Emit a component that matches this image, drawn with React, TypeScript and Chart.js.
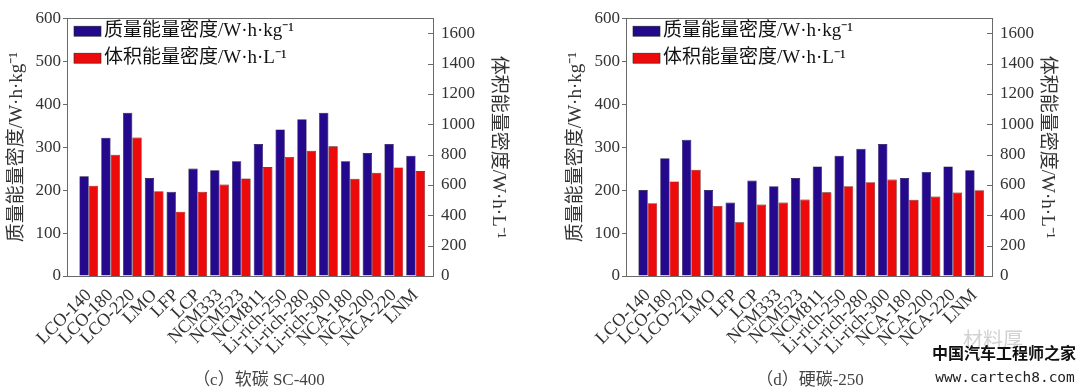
import React, { useEffect, useRef } from 'react';
import { Chart, registerables } from 'chart.js';

Chart.register(...registerables);

// ---------- data ----------
const categories = [
  'LCO-140', 'LCO-180', 'LCO-220', 'LMO', 'LFP', 'LCP', 'NCM333', 'NCM523', 'NCM811',
  'Li-rich-250', 'Li-rich-280', 'Li-rich-300', 'NCA-180', 'NCA-200', 'NCA-220', 'LNM',
];

// (c) soft carbon SC-400
const softMass = [232, 322, 380, 228, 196, 250, 246, 267, 307, 341, 365, 380, 267, 286, 307, 280];
const softVolume = [595, 800, 913, 559, 424, 555, 603, 643, 718, 785, 826, 855, 641, 681, 716, 692];

// (d) hard carbon-250
const hardMass = [200, 274, 317, 200, 171, 222, 209, 228, 255, 280, 296, 307, 228, 242, 255, 246];
const hardVolume = [480, 623, 700, 462, 354, 471, 484, 504, 552, 592, 619, 636, 502, 524, 550, 566];

const leftTicks = [0, 100, 200, 300, 400, 500, 600];
const rightTicks = [0, 200, 400, 600, 800, 1000, 1200, 1400, 1600];

const massLabel = '质量能量密度/W·h·kg⁻¹';
const volumeLabel = '体积能量密度/W·h·L⁻¹';
const captionC = '（c）软碳 SC-400';
const captionD = '（d）硬碳-250';

// ---------- styles ----------
const BLUE = '#25098c';
const RED = '#ec0a0a';
const AXIS = '#6a6a6a';
const TEXT = '#333333';
const FONT = "'Liberation Serif', 'Noto Sans CJK SC', serif";

const framePlugin = {
  id: 'framePlugin',
  afterDatasetsDraw(chart: any) {
    const { ctx, chartArea } = chart;
    const { left, right, top, bottom } = chartArea;
    ctx.save();
    ctx.strokeStyle = AXIS;
    ctx.lineWidth = 1;
    ctx.strokeRect(Math.round(left) + 0.5, Math.round(top) + 0.5, Math.round(right - left), Math.round(bottom - top));
    // inward ticks on right axis
    const y1 = chart.scales.y1;
    rightTicks.forEach((v) => {
      if (v === 0) return;
      const py = Math.round(y1.getPixelForValue(v)) + 0.5;
      ctx.beginPath();
      ctx.moveTo(right - 5, py);
      ctx.lineTo(right, py);
      ctx.stroke();
    });
    // legend inside plot
    const items = [
      { color: BLUE, text: massLabel },
      { color: RED, text: volumeLabel },
    ];
    ctx.font = `19px ${FONT}`;
    ctx.textBaseline = 'middle';
    ctx.textAlign = 'left';
    items.forEach((it, i) => {
      const bx = left + 7;
      const by = top + 8 + i * 27;
      ctx.fillStyle = it.color;
      ctx.fillRect(bx, by, 27, 10);
      ctx.strokeStyle = '#222';
      ctx.lineWidth = 0.6;
      ctx.strokeRect(bx, by, 27, 10);
      ctx.fillStyle = '#111';
      ctx.fillText(it.text, bx + 30, by + 5);
    });
    ctx.restore();
  },
};

function makeConfig(mass: number[], volume: number[], rightTitlePad: number): any {
  const tickFont = { family: FONT, size: 17 };
  return {
    type: 'bar',
    data: {
      datasets: [
        {
          label: massLabel,
          data: mass.map((v, i) => ({ x: i, y: v })),
          backgroundColor: BLUE,
          borderColor: '#14063f',
          borderWidth: 0.6,
          yAxisID: 'y',
          categoryPercentage: 0.86,
          barPercentage: 1.0,
        },
        {
          label: volumeLabel,
          data: volume.map((v, i) => ({ x: i, y: v })),
          backgroundColor: RED,
          borderColor: '#5a0000',
          borderWidth: 0.6,
          yAxisID: 'y1',
          categoryPercentage: 0.86,
          barPercentage: 1.0,
        },
      ],
    },
    options: {
      animation: false,
      responsive: false,
      devicePixelRatio: 1,
      layout: { padding: { top: 18, left: 0, right: 0, bottom: 0 } },
      plugins: { legend: { display: false }, tooltip: { enabled: false } },
      scales: {
        x: {
          type: 'linear',
          min: -1,
          max: 15.8,
          offset: false,
          afterBuildTicks: (s: any) => {
            s.ticks = categories.map((_, i) => ({ value: i }));
          },
          afterFit: (s: any) => {
            s.height = 116;
          },
          ticks: {
            autoSkip: false,
            maxRotation: 45,
            minRotation: 45,
            padding: 1,
            color: TEXT,
            font: { family: FONT, size: 18 },
            callback: (v: any) => categories[v] ?? '',
          },
          grid: { display: false },
          border: { display: false },
        },
        y: {
          position: 'left',
          min: 0,
          max: 600,
          afterBuildTicks: (s: any) => {
            s.ticks = leftTicks.map((v) => ({ value: v }));
          },
          afterFit: (s: any) => {
            s.width = 67;
          },
          ticks: { color: TEXT, font: tickFont, padding: 2, callback: (v: any) => String(v) },
          grid: { drawOnChartArea: false, tickLength: 4, color: AXIS },
          border: { display: false },
          title: {
            display: true,
            text: massLabel,
            color: TEXT,
            font: { family: FONT, size: 19 },
            padding: { top: 6, bottom: 0 },
          },
        },
        y1: {
          position: 'right',
          min: 0,
          max: 1700,
          afterBuildTicks: (s: any) => {
            s.ticks = rightTicks.map((v) => ({ value: v }));
          },
          afterFit: (s: any) => {
            s.width = 88;
          },
          ticks: { color: TEXT, font: tickFont, padding: 8, callback: (v: any) => String(v) },
          grid: { display: false, drawTicks: false },
          border: { display: false },
          title: {
            display: true,
            text: volumeLabel,
            color: TEXT,
            font: { family: FONT, size: 19 },
            padding: { top: rightTitlePad, bottom: 0 },
          },
        },
      },
    },
    plugins: [framePlugin],
  };
}

function BarPanel({ mass, volume, left, rightTitlePad }: { mass: number[]; volume: number[]; left: number; rightTitlePad: number }) {
  const ref = useRef<HTMLCanvasElement | null>(null);
  useEffect(() => {
    if (!ref.current) return;
    const chart = new Chart(ref.current, makeConfig(mass, volume, rightTitlePad));
    return () => chart.destroy();
  }, [mass, volume, rightTitlePad]);
  return (
    <canvas
      ref={ref}
      width={521}
      height={392}
      style={{ position: 'absolute', left, top: 0, width: 521, height: 392 }}
    />
  );
}

const captionStyle: React.CSSProperties = {
  position: 'absolute',
  top: 377,
  transform: 'translate(-50%, -50%)',
  fontFamily: FONT,
  fontSize: 17,
  color: '#444',
  whiteSpace: 'nowrap',
};

export default function App() {
  return (
    <div
      style={{
        position: 'fixed',
        left: 0,
        top: 0,
        width: 1080,
        height: 392,
        background: '#ffffff',
        overflow: 'hidden',
      }}
    >
      <BarPanel mass={softMass} volume={softVolume} left={0} rightTitlePad={12} />
      <BarPanel mass={hardMass} volume={hardVolume} left={559} rightTitlePad={22} />
      <div style={{ ...captionStyle, left: 259 }}>{captionC}</div>
      <div style={{ ...captionStyle, left: 810 }}>{captionD}</div>
      <div
        style={{
          position: 'absolute',
          left: 993,
          top: 338,
          transform: 'translate(-50%, -50%)',
          fontFamily: "'Noto Sans CJK SC', sans-serif",
          fontSize: 20,
          color: '#d2d2d2',
          whiteSpace: 'nowrap',
        }}
      >
        材料厚
      </div>
      <div
        style={{
          position: 'absolute',
          left: 1004,
          top: 352,
          transform: 'translate(-50%, -50%)',
          fontFamily: "'Noto Sans CJK SC', sans-serif",
          fontWeight: 700,
          fontSize: 16,
          color: '#111',
          whiteSpace: 'nowrap',
        }}
      >
        中国汽车工程师之家
      </div>
      <div
        style={{
          position: 'absolute',
          left: 1005,
          top: 377,
          transform: 'translate(-50%, -50%)',
          fontFamily: "'DejaVu Sans Mono', monospace",
          fontSize: 14.5,
          color: '#222',
          whiteSpace: 'nowrap',
        }}
      >
        www.cartech8.com
      </div>
    </div>
  );
}
